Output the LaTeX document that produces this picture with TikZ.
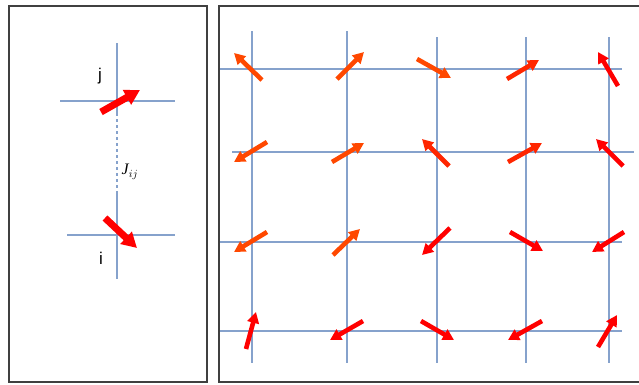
\documentclass[tikz,border=0pt]{standalone}
\usepackage{fontspec}
\setmainfont{Liberation Serif}
\newfontfamily\labelfont{Liberation Sans}
\usetikzlibrary{arrows.meta}
\definecolor{gridblue}{RGB}{134,162,204}
\definecolor{framegray}{RGB}{64,64,64}
\definecolor{spinO}{RGB}{255,72,0}
\definecolor{spinM}{RGB}{255,38,0}
\definecolor{spinR}{RGB}{255,0,0}

\begin{document}
\begin{tikzpicture}[
    x=1pt, y=-1pt,
    panel/.style={draw=framegray, line width=2.6pt},
    lattice/.style={draw=gridblue, line width=1.1pt},
    spin/.style={line width=4.6pt, -{Triangle[length=11pt 0, width=11.5pt 0]}},
    spinbig/.style={line width=7pt, -{Triangle[length=15pt 0, width=16pt 0]}, spinR},
    site/.style={font=\labelfont\fontsize{17}{17}\selectfont, inner sep=0pt}
]
\useasboundingbox (0,0) rectangle (639,384);

% left panel: two coupled spins
\draw[panel] (9,6) rectangle (207,382);
\draw[lattice] (117,43) -- (117,113);
\draw[lattice, dashed] (117,113) -- (117,192);
\draw[lattice] (117,192) -- (117,279);
\draw[lattice] (60,101) -- (175,101);
\draw[lattice] (67,235) -- (175,235);
\node[site] (j) at (100,76) {j};
\node[site] (i) at (101,258) {i};
\node[font=\fontsize{16}{16}\selectfont\itshape, inner sep=0pt] (Jij) at (130,172) {J$_{ij}$};
\draw[spinbig] (101,112) -- (140,90);
\draw[spinbig] (105,218) -- (137,248);

% right panel: square lattice of spins
\draw[panel] (219,6) rectangle (660,382);
\draw[lattice] (220,69) -- (622,69);
\draw[lattice] (232,152) -- (634,152);
\draw[lattice] (220,242) -- (622,242);
\draw[lattice] (220,331) -- (622,331);
\draw[lattice] (252,31) -- (252,363);
\draw[lattice] (347,31) -- (347,363);
\draw[lattice] (437,37) -- (437,363);
\draw[lattice] (526,37) -- (526,363);
\draw[lattice] (609,37) -- (609,363);

\draw[spin, spinO] (262,80) -- (234,53);
\draw[spin, spinO] (337,79) -- (364,52);
\draw[spin, spinO] (417,59) -- (451,78);
\draw[spin, spinM] (507,79) -- (539,60);
\draw[spin, spinR] (618,86) -- (598,52);

\draw[spin, spinO] (267,142) -- (234,162);
\draw[spin, spinO] (332,162) -- (364,143);
\draw[spin, spinM] (449,166) -- (422,139);
\draw[spin, spinM] (508,162) -- (542,143);
\draw[spin, spinR] (623,166) -- (596,139);

\draw[spin, spinO] (267,232) -- (234,252);
\draw[spin, spinO] (333,255) -- (360,229);
\draw[spin, spinR] (450,228) -- (422,255);
\draw[spin, spinR] (510,232) -- (543,251);
\draw[spin, spinR] (624,232) -- (592,252);

\draw[spin, spinR] (246,349) -- (256,312);
\draw[spin, spinR] (363,321) -- (330,340);
\draw[spin, spinR] (421,321) -- (454,340);
\draw[spin, spinR] (542,321) -- (508,340);
\draw[spin, spinR] (598,347) -- (617,315);
\end{tikzpicture}
\end{document}
